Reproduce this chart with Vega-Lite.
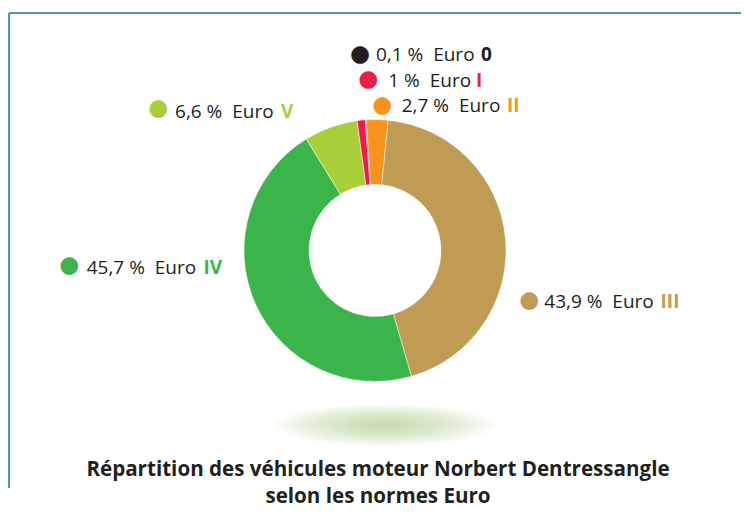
{
  "$schema": "https://vega.github.io/schema/vega-lite/v6.json",
  "autosize": "none",
  "width": 732,
  "height": 475,
  "padding": {"left": 9, "top": 13, "right": 3, "bottom": 26},
  "background": "#ffffff",
  "title": {
    "text": ["Répartition des véhicules moteur Norbert Dentressangle", "selon les normes Euro"],
    "orient": "bottom",
    "anchor": "middle",
    "frame": "group",
    "offset": -28,
    "baseline": "top",
    "font": "Open Sans",
    "fontSize": 20.6,
    "fontWeight": "bold",
    "color": "#231f20",
    "lineHeight": 27,
    "dx": 3
  },
  "data": {
    "values": [
      {"norme": "II", "pct": 2.7, "libelle": "2,7\u00a0%\u00a0\u00a0Euro", "ordre": 1},
      {"norme": "III", "pct": 43.9, "libelle": "43,9\u00a0%\u00a0\u00a0Euro", "ordre": 2},
      {"norme": "IV", "pct": 45.7, "libelle": "45,7\u00a0%\u00a0\u00a0Euro", "ordre": 3},
      {"norme": "V", "pct": 6.6, "libelle": "6,6\u00a0%\u00a0\u00a0Euro", "ordre": 4},
      {"norme": "I", "pct": 1, "libelle": "1\u00a0%\u00a0\u00a0Euro", "ordre": 5},
      {"norme": "0", "pct": 0.1, "libelle": "0,1\u00a0%\u00a0\u00a0Euro", "ordre": 6}
    ]
  },
  "layer": [
    {
      "data": {"values": [{"element": "ombre"}]},
      "encoding": {
        "x": {"datum": 0.027, "type": "quantitative", "scale": {"domain": [-1, 1]}, "axis": null},
        "y": {"datum": -0.735, "type": "quantitative", "scale": {"domain": [-1, 1]}, "axis": null}
      },
      "layer": [
        {"mark": {"type": "point", "shape": "M-1,0A1,0.19,0,1,1,1,0A1,0.19,0,1,1,-1,0Z", "size": 48400, "filled": true, "opacity": 0.055, "strokeWidth": 0, "color": "#a6d182"}},
        {"mark": {"type": "point", "shape": "M-1,0A1,0.19,0,1,1,1,0A1,0.19,0,1,1,-1,0Z", "size": 42189, "filled": true, "opacity": 0.055, "strokeWidth": 0, "color": "#a6d182"}},
        {"mark": {"type": "point", "shape": "M-1,0A1,0.19,0,1,1,1,0A1,0.19,0,1,1,-1,0Z", "size": 36405, "filled": true, "opacity": 0.055, "strokeWidth": 0, "color": "#a6d182"}},
        {"mark": {"type": "point", "shape": "M-1,0A1,0.19,0,1,1,1,0A1,0.19,0,1,1,-1,0Z", "size": 31046, "filled": true, "opacity": 0.055, "strokeWidth": 0, "color": "#a6d182"}},
        {"mark": {"type": "point", "shape": "M-1,0A1,0.19,0,1,1,1,0A1,0.19,0,1,1,-1,0Z", "size": 26082, "filled": true, "opacity": 0.055, "strokeWidth": 0, "color": "#a6d182"}},
        {"mark": {"type": "point", "shape": "M-1,0A1,0.19,0,1,1,1,0A1,0.19,0,1,1,-1,0Z", "size": 21580, "filled": true, "opacity": 0.055, "strokeWidth": 0, "color": "#a6d182"}},
        {"mark": {"type": "point", "shape": "M-1,0A1,0.19,0,1,1,1,0A1,0.19,0,1,1,-1,0Z", "size": 17503, "filled": true, "opacity": 0.055, "strokeWidth": 0, "color": "#a6d182"}},
        {"mark": {"type": "point", "shape": "M-1,0A1,0.19,0,1,1,1,0A1,0.19,0,1,1,-1,0Z", "size": 13853, "filled": true, "opacity": 0.055, "strokeWidth": 0, "color": "#a6d182"}},
        {"mark": {"type": "point", "shape": "M-1,0A1,0.19,0,1,1,1,0A1,0.19,0,1,1,-1,0Z", "size": 10630, "filled": true, "opacity": 0.055, "strokeWidth": 0, "color": "#a6d182"}},
        {"mark": {"type": "point", "shape": "M-1,0A1,0.19,0,1,1,1,0A1,0.19,0,1,1,-1,0Z", "size": 7832, "filled": true, "opacity": 0.055, "strokeWidth": 0, "color": "#a6d182"}},
        {"mark": {"type": "point", "shape": "M-1,0A1,0.19,0,1,1,1,0A1,0.19,0,1,1,-1,0Z", "size": 5446, "filled": true, "opacity": 0.055, "strokeWidth": 0, "color": "#a6d182"}},
        {"mark": {"type": "point", "shape": "M-1,0A1,0.19,0,1,1,1,0A1,0.19,0,1,1,-1,0Z", "size": 3505, "filled": true, "opacity": 0.055, "strokeWidth": 0, "color": "#a6d182"}},
        {"mark": {"type": "point", "shape": "M-1,0A1,0.19,0,1,1,1,0A1,0.19,0,1,1,-1,0Z", "size": 1989, "filled": true, "opacity": 0.055, "strokeWidth": 0, "color": "#a6d182"}},
        {"mark": {"type": "point", "shape": "M-1,0A1,0.19,0,1,1,1,0A1,0.19,0,1,1,-1,0Z", "size": 900, "filled": true, "opacity": 0.055, "strokeWidth": 0, "color": "#a6d182"}}
      ]
    },
    {
      "encoding": {
        "theta": {"field": "pct", "type": "quantitative", "stack": true, "scale": {"range": [-0.068, 6.2152]}},
        "order": {"field": "ordre", "type": "quantitative"},
        "detail": {"field": "norme", "type": "nominal"},
        "color": {
          "field": "norme", "type": "nominal",
          "scale": {"domain": ["0", "I", "II", "III", "IV", "V"], "range": ["#231f20", "#ec1c4b", "#f7941d", "#bf9b53", "#3bb54a", "#a8cf39"]},
          "legend": null
        }
      },
      "layer": [
        {"mark": {"type": "arc", "innerRadius": 66, "outerRadius": 131, "stroke": "#ffffff", "strokeWidth": 0.5}},

        {"mark": {"type": "text", "radius": 197, "dx": -1, "dy": 0, "align": "center", "baseline": "middle", "font": "DejaVu Sans", "fontSize": 23},
         "encoding": {"text": {"condition": {"test": "datum.norme === '0'", "value": "●"}, "value": ""}}},
        {"mark": {"type": "text", "radius": 197, "dx": 15, "dy": 7, "align": "left", "baseline": "alphabetic", "font": "Open Sans", "fontSize": 19},
         "encoding": {"text": {"condition": {"test": "datum.norme === '0'", "field": "libelle", "type": "nominal"}, "value": ""}, "color": {"value": "#231f20"}}},
        {"mark": {"type": "text", "radius": 197, "dx": 120, "dy": 7, "align": "left", "baseline": "alphabetic", "font": "Open Sans", "fontSize": 19, "fontWeight": "bold"},
         "encoding": {"text": {"condition": {"test": "datum.norme === '0'", "field": "norme", "type": "nominal"}, "value": ""}}},

        {"mark": {"type": "text", "radius": 172.5, "dx": 11.5, "dy": 0, "align": "center", "baseline": "middle", "font": "DejaVu Sans", "fontSize": 23},
         "encoding": {"text": {"condition": {"test": "datum.norme === 'I'", "value": "●"}, "value": ""}}},
        {"mark": {"type": "text", "radius": 172.5, "dx": 31.5, "dy": 7.7, "align": "left", "baseline": "alphabetic", "font": "Open Sans", "fontSize": 19},
         "encoding": {"text": {"condition": {"test": "datum.norme === 'I'", "field": "libelle", "type": "nominal"}, "value": ""}, "color": {"value": "#231f20"}}},
        {"mark": {"type": "text", "radius": 172.5, "dx": 119.2, "dy": 7.7, "align": "left", "baseline": "alphabetic", "font": "Open Sans", "fontSize": 19, "fontWeight": "bold"},
         "encoding": {"text": {"condition": {"test": "datum.norme === 'I'", "field": "norme", "type": "nominal"}, "value": ""}}},

        {"mark": {"type": "text", "radius": 145.5, "dx": 4.9, "dy": 0, "align": "center", "baseline": "middle", "font": "DejaVu Sans", "fontSize": 23},
         "encoding": {"text": {"condition": {"test": "datum.norme === 'II'", "value": "●"}, "value": ""}}},
        {"mark": {"type": "text", "radius": 145.5, "dx": 24.3, "dy": 7.3, "align": "left", "baseline": "alphabetic", "font": "Open Sans", "fontSize": 19},
         "encoding": {"text": {"condition": {"test": "datum.norme === 'II'", "field": "libelle", "type": "nominal"}, "value": ""}, "color": {"value": "#231f20"}}},
        {"mark": {"type": "text", "radius": 145.5, "dx": 129.6, "dy": 7.3, "align": "left", "baseline": "alphabetic", "font": "Open Sans", "fontSize": 19, "fontWeight": "bold"},
         "encoding": {"text": {"condition": {"test": "datum.norme === 'II'", "field": "norme", "type": "nominal"}, "value": ""}}},

        {"mark": {"type": "text", "radius": 190, "dx": -152.5, "dy": 36.6, "align": "center", "baseline": "middle", "font": "DejaVu Sans", "fontSize": 23},
         "encoding": {"text": {"condition": {"test": "datum.norme === 'V'", "value": "●"}, "value": ""}}},
        {"mark": {"type": "text", "radius": 190, "dx": -135.8, "dy": 46, "align": "left", "baseline": "alphabetic", "font": "Open Sans", "fontSize": 19},
         "encoding": {"text": {"condition": {"test": "datum.norme === 'V'", "field": "libelle", "type": "nominal"}, "value": ""}, "color": {"value": "#231f20"}}},
        {"mark": {"type": "text", "radius": 190, "dx": -29.8, "dy": 46, "align": "left", "baseline": "alphabetic", "font": "Open Sans", "fontSize": 19, "fontWeight": "bold"},
         "encoding": {"text": {"condition": {"test": "datum.norme === 'V'", "field": "norme", "type": "nominal"}, "value": ""}}},

        {"mark": {"type": "text", "radius": 160, "dx": -159.4, "dy": -50.3, "align": "center", "baseline": "middle", "font": "DejaVu Sans", "fontSize": 23},
         "encoding": {"text": {"condition": {"test": "datum.norme === 'IV'", "value": "●"}, "value": ""}}},
        {"mark": {"type": "text", "radius": 160, "dx": -142, "dy": -41, "align": "left", "baseline": "alphabetic", "font": "Open Sans", "fontSize": 19},
         "encoding": {"text": {"condition": {"test": "datum.norme === 'IV'", "field": "libelle", "type": "nominal"}, "value": ""}, "color": {"value": "#231f20"}}},
        {"mark": {"type": "text", "radius": 160, "dx": -25.2, "dy": -41, "align": "left", "baseline": "alphabetic", "font": "Open Sans", "fontSize": 19, "fontWeight": "bold"},
         "encoding": {"text": {"condition": {"test": "datum.norme === 'IV'", "field": "norme", "type": "nominal"}, "value": ""}}},

        {"mark": {"type": "text", "radius": 160, "dx": -5, "dy": 63.9, "align": "center", "baseline": "middle", "font": "DejaVu Sans", "fontSize": 23},
         "encoding": {"text": {"condition": {"test": "datum.norme === 'III'", "value": "●"}, "value": ""}}},
        {"mark": {"type": "text", "radius": 160, "dx": 10, "dy": 71.6, "align": "left", "baseline": "alphabetic", "font": "Open Sans", "fontSize": 19},
         "encoding": {"text": {"condition": {"test": "datum.norme === 'III'", "field": "libelle", "type": "nominal"}, "value": ""}, "color": {"value": "#231f20"}}},
        {"mark": {"type": "text", "radius": 160, "dx": 126.2, "dy": 71.6, "align": "left", "baseline": "alphabetic", "font": "Open Sans", "fontSize": 19, "fontWeight": "bold"},
         "encoding": {"text": {"condition": {"test": "datum.norme === 'III'", "field": "norme", "type": "nominal"}, "value": ""}}}
      ]
    }
  ],
  "config": {
    "view": {"stroke": "#4b9aa3", "strokeWidth": 2, "strokeDash": [732, 1207, 475, 0]},
    "font": "Open Sans"
  }
}
